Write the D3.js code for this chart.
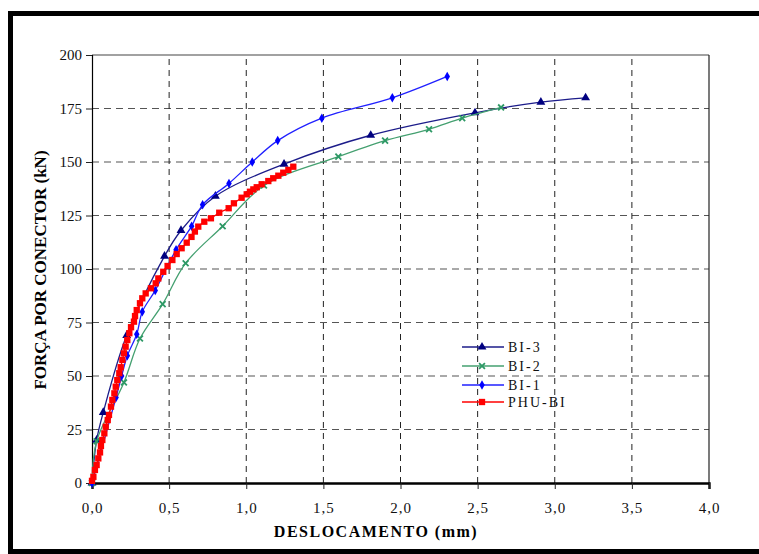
<!DOCTYPE html>
<html>
<head>
<meta charset="utf-8">
<script src="https://cdn.jsdelivr.net/npm/d3@7"></script>
<style>
  body { margin: 0; background: #fff; }
  svg text { font-family: "Liberation Serif", "Times New Roman", Times, "DejaVu Serif", serif; }
</style>
</head>
<body>
<div id="chart"></div>
<script>
// load-slip curves, [deslocamento mm, força kN]
var bi3 = [[0,0],[0.03,20],[0.073,33],[0.225,69],[0.47,106],[0.577,118],[0.80,134],[1.245,149],
  [1.807,162.5],[2.483,173],[2.91,178],[3.2,180]];
var bi2 = [[0,0],[0.03,19.5],[0.207,47],[0.311,67.5],[0.458,83.6],[0.607,102.7],[0.847,120],
  [1.115,139],[1.597,152.5],[1.9,160],[2.185,165.3],[2.40,170.5],[2.652,175.5]];
var bi1 = [[0,0],[0.156,40],[0.192,50],[0.229,59.5],[0.29,69.5],[0.326,80],[0.41,90],[0.545,109],
  [0.646,120],[0.717,130],[0.888,140],[1.039,150],[1.204,160],[1.49,170.5],[1.947,180],[2.303,190]];
var phu = [[0,1],[0.009,2.9],[0.019,6.1],[0.03,8.4],[0.041,11.5],[0.052,14.3],[0.058,17.3],[0.067,20.1],
  [0.08,23.2],[0.089,26.3],[0.102,29.4],[0.11,31.8],[0.123,35.7],[0.132,38.8],[0.145,41.9],[0.154,45],
  [0.164,48.1],[0.177,51.3],[0.186,54.1],[0.197,57.5],[0.207,60.6],[0.218,63.7],[0.229,66.8],[0.242,70],
  [0.253,72.8],[0.272,75.4],[0.279,78],[0.29,80.8],[0.311,84],[0.326,86.3],[0.348,88.6],[0.382,91],
  [0.413,93.3],[0.43,95.6],[0.462,98.7],[0.49,101.4],[0.521,104.2],[0.549,107],[0.581,109.7],[0.614,112.3],
  [0.645,115],[0.667,117.5],[0.689,119.8],[0.728,122.1],[0.771,123.7],[0.825,126.3],[0.886,128.4],[0.92,130.7],
  [0.97,133.3],[1.003,134.9],[1.024,136.1],[1.046,137.2],[1.068,138.2],[1.1,139.6],[1.143,141.1],[1.175,142.4],
  [1.208,143.6],[1.24,145],[1.273,146.3],[1.305,147.8]];

var xTicks = [0, 0.5, 1, 1.5, 2, 2.5, 3, 3.5, 4];
var yTicks = [0, 25, 50, 75, 100, 125, 150, 175, 200];
var seriesNames = ['BI-3', 'BI-2', 'BI-1', 'PHU-BI'];

var width = 759, height = 554;
var svg = d3.select('#chart').append('svg').attr('width', width).attr('height', height);

// outer frame, open on the right like the scan
svg.append('rect').attr('x', 10.5).attr('y', 13.5).attr('width', 820).attr('height', 538)
  .attr('fill', 'none').attr('stroke', '#000').attr('stroke-width', 5);

var x = d3.scaleLinear().domain([0, 4]).range([92, 709]);
var y = d3.scaleLinear().domain([0, 200]).range([483, 55]);

// grid
svg.append('g').selectAll('line').data(yTicks.slice(1, -1)).enter().append('line')
  .attr('x1', x(0)).attr('x2', x(4)).attr('y1', d => y(d)).attr('y2', d => y(d))
  .attr('stroke', '#555').attr('stroke-width', 1.2).attr('stroke-dasharray', '7,5');
svg.append('g').selectAll('line').data(xTicks.slice(1, -1)).enter().append('line')
  .attr('y1', y(0)).attr('y2', y(200)).attr('x1', d => x(d)).attr('x2', d => x(d))
  .attr('stroke', '#222').attr('stroke-width', 1).attr('stroke-dasharray', '6,5');

// plot border top/right
svg.append('line').attr('x1', x(0)).attr('x2', x(4)).attr('y1', y(200)).attr('y2', y(200))
  .attr('stroke', '#444').attr('stroke-width', 1.2);
svg.append('line').attr('x1', x(4)).attr('x2', x(4)).attr('y1', y(200)).attr('y2', y(0))
  .attr('stroke', '#222').attr('stroke-width', 1.2);

// axes
var yAxis = svg.append('g').attr('transform', 'translate(' + x(0) + ',0)')
  .call(d3.axisLeft(y).tickValues(yTicks).tickSize(6).tickPadding(4).tickFormat(d3.format('d')));
var xAxis = svg.append('g').attr('transform', 'translate(0,' + y(0) + ')')
  .call(d3.axisBottom(x).tickValues(xTicks).tickSize(6).tickPadding(13)
    .tickFormat(d => d.toFixed(1).replace('.', ',')));
[yAxis, xAxis].forEach(function(g) {
  g.attr('font-family', null);
  g.selectAll('text').style('font-size', '15px').attr('fill', '#111');
  g.selectAll('.tick line').attr('stroke', '#222');
});
xAxis.selectAll('text').style('letter-spacing', '1px');
yAxis.select('.domain').attr('stroke', '#000').attr('stroke-width', 1.2);
xAxis.select('.domain').attr('stroke', '#000').attr('stroke-width', 2.4);

// axis titles
svg.append('text').attr('x', 376).attr('y', 537).attr('text-anchor', 'middle')
  .style('font-weight', 'bold').style('font-size', '16px').style('letter-spacing', '1.5px')
  .text('DESLOCAMENTO (mm)');
svg.append('text').attr('transform', 'translate(46,270) rotate(-90)').attr('text-anchor', 'middle')
  .style('font-weight', 'bold').style('font-size', '17px')
  .text('FORÇA POR CONECTOR (kN)');

var styles = [
  { data: bi3, color: '#000080', line: '#1c1c8a', sym: d3.symbolTriangle, size: 34, fill: true },
  { data: bi2, color: '#2e9966', line: '#44a070', sym: d3.symbolTimes, size: 24, fill: false },
  { data: bi1, color: '#0000ff', line: '#2020ff', sym: d3.symbolDiamond, size: 26, fill: true },
  { data: phu, color: '#ff0000', line: '#ff0000', sym: d3.symbolSquare, size: 40, fill: true }
];

var lineGen = d3.line().x(d => x(d[0])).y(d => y(d[1])).curve(d3.curveCatmullRom.alpha(0.5));

styles.forEach(function(s) {
  svg.append('path').datum(s.data).attr('d', lineGen)
    .attr('fill', 'none').attr('stroke', s.line).attr('stroke-width', 1.3);
  svg.append('g').selectAll('path').data(s.data).enter().append('path')
    .attr('transform', d => 'translate(' + x(d[0]) + ',' + y(d[1]) + ')')
    .attr('d', d3.symbol().type(s.sym).size(s.size))
    .attr('fill', s.fill ? s.color : 'none')
    .attr('stroke', s.color).attr('stroke-width', s.fill ? 0 : 1.8);
});

// legend
var legend = svg.append('g');
var rowY = [347, 366, 385, 402];
styles.forEach(function(s, i) {
  var row = legend.append('g').attr('transform', 'translate(0,' + rowY[i] + ')');
  row.append('line').attr('x1', 462).attr('x2', 504).attr('stroke', s.line).attr('stroke-width', 1.3);
  row.append('path').attr('transform', 'translate(482,0)')
    .attr('d', d3.symbol().type(s.sym).size(s.size))
    .attr('fill', s.fill ? s.color : 'none')
    .attr('stroke', s.color).attr('stroke-width', s.fill ? 0 : 1.8);
  row.append('text').attr('x', 508).attr('y', 4.5).style('font-size', '14px')
    .style('letter-spacing', '2px').attr('fill', '#111').text(seriesNames[i]);
});
</script>
</body>
</html>
